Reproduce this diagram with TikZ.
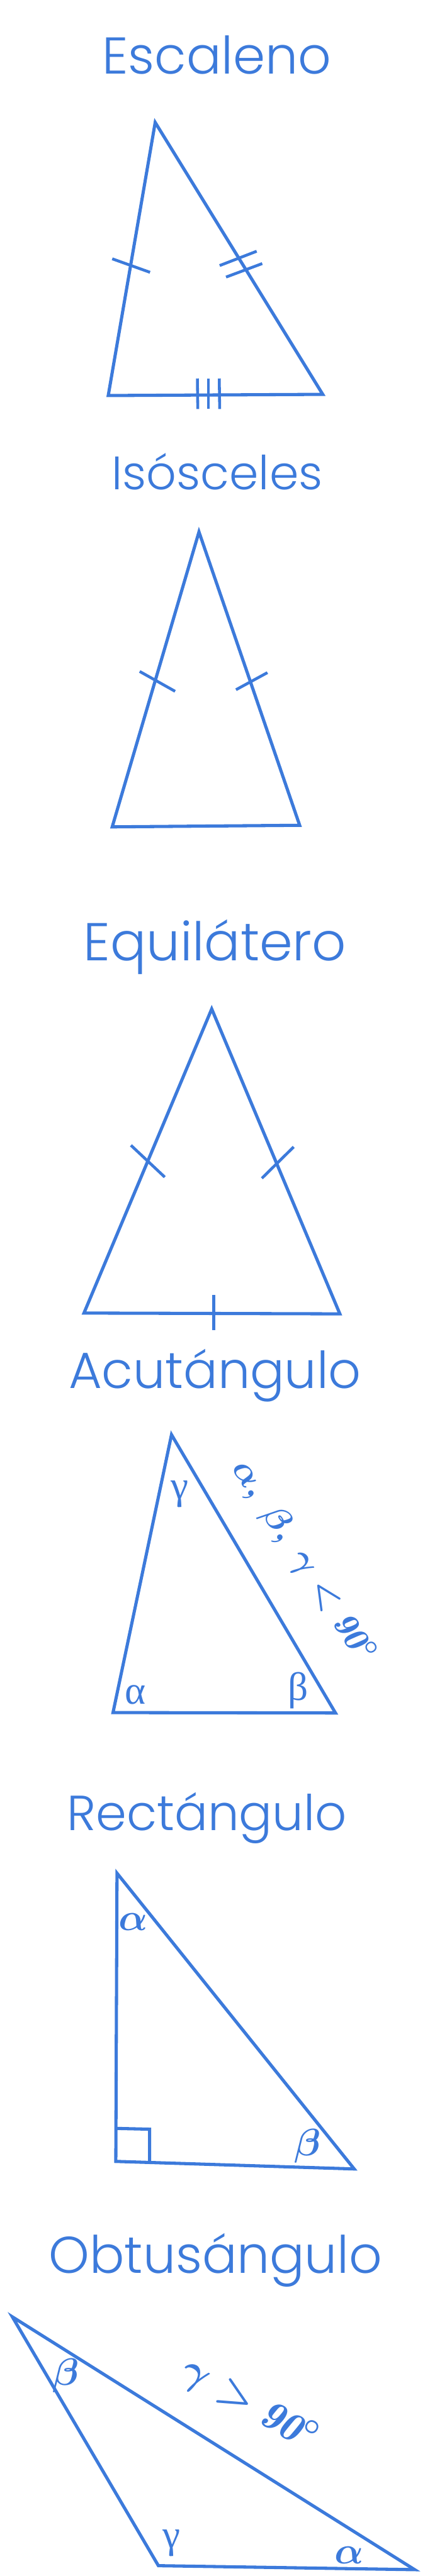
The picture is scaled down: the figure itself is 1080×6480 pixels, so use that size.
\RequirePackage{fix-cm}
\documentclass[tikz,border=0pt]{standalone}
\usepackage{fontspec}
\newfontfamily\titlefont{Poppins Light}
\newfontfamily\greekfont{Liberation Serif}
\definecolor{tblue}{RGB}{60,122,219}
\begin{document}
\begin{tikzpicture}[x=0.5pt,y=-0.5pt,
  tri/.style={draw=tblue, line width=4pt, line join=miter},
  tickmark/.style={draw=tblue, line width=3.6pt},
  title/.style={text=tblue, anchor=base, inner sep=0pt},
  lbl/.style={text=tblue, inner sep=0pt, font=\fontsize{48}{50}\selectfont\boldmath}]
\useasboundingbox (0,0) rectangle (1080,6480);
\fill[white] (0,0) rectangle (1080,6480);

% ---------- Escaleno ----------
\node[title, font=\titlefont\fontsize{65}{70}\selectfont] (t1) at (545,186) {Escaleno};
\coordinate (e1) at (390,308);
\coordinate (e2) at (272,995);
\coordinate (e3) at (811,992);
\draw[tri] (e1) -- (e2) -- (e3) -- cycle;
\coordinate (ea1) at (282,651); \coordinate (ea2) at (377,685);
\draw[tickmark] (ea1) -- (ea2);
\coordinate (eb1) at (552,668); \coordinate (eb2) at (645,632);
\coordinate (eb3) at (568,697); \coordinate (eb4) at (659,663);
\draw[tickmark] (eb1) -- (eb2);
\draw[tickmark] (eb3) -- (eb4);
\coordinate (ec1) at (496,952); \coordinate (ec2) at (497,1029);
\coordinate (ec3) at (524,952); \coordinate (ec4) at (524,1029);
\coordinate (ec5) at (551,952); \coordinate (ec6) at (552,1029);
\draw[tickmark] (ec1) -- (ec2);
\draw[tickmark] (ec3) -- (ec4);
\draw[tickmark] (ec5) -- (ec6);

% ---------- Isosceles ----------
\node[title, font=\titlefont\fontsize{59}{63}\selectfont] (t2) at (546,1232) {Isósceles};
\coordinate (i1) at (500,1338);
\coordinate (i2) at (282,2080);
\coordinate (i3) at (753,2076);
\draw[tri] (i1) -- (i2) -- (i3) -- cycle;
\coordinate (ia1) at (351,1689); \coordinate (ia2) at (440,1739);
\coordinate (ib1) at (593,1735); \coordinate (ib2) at (672,1692);
\draw[tickmark] (ia1) -- (ia2);
\draw[tickmark] (ib1) -- (ib2);

% ---------- Equilatero ----------
\node[title, font=\titlefont\fontsize{67}{71}\selectfont] (t3) at (540,2416) {Equilátero};
\coordinate (q1) at (532,2538);
\coordinate (q2) at (211,3303);
\coordinate (q3) at (854,3305);
\draw[tri] (q1) -- (q2) -- (q3) -- cycle;
\coordinate (qa1) at (329,2881); \coordinate (qa2) at (414,2961);
\coordinate (qb1) at (658,2964); \coordinate (qb2) at (738,2885);
\coordinate (qc1) at (537,3258); \coordinate (qc2) at (537,3346);
\draw[tickmark] (qa1) -- (qa2);
\draw[tickmark] (qb1) -- (qb2);
\draw[tickmark] (qc1) -- (qc2);

% ---------- Acutangulo ----------
\node[title, font=\titlefont\fontsize{64}{68}\selectfont] (t4) at (540,3493) {Acutángulo};
\coordinate (a1) at (431,3609);
\coordinate (a2) at (284,4308);
\coordinate (a3) at (843,4309);
\draw[tri] (a1) -- (a2) -- (a3) -- cycle;
\node[lbl, font=\greekfont\fontsize{50}{52}\selectfont] (ag) at (451,3758) {γ};
\node[lbl, font=\greekfont\fontsize{50}{52}\selectfont] (aa) at (341,4263) {α};
\node[lbl, font=\greekfont\fontsize{50}{52}\selectfont] (ab) at (750,4253) {β};
\node[lbl, rotate=-57, font=\fontsize{44}{46}\selectfont\boldmath] (acond) at (761,3927)
  {$\alpha,\ \beta,\ \gamma < \mathit{90}^\circ$};

% ---------- Rectangulo ----------
\node[title, font=\titlefont\fontsize{62}{66}\selectfont] (t5) at (520,4604) {Rectángulo};
\coordinate (r1) at (294,4712);
\coordinate (r2) at (291,5437);
\coordinate (r3) at (890,5456);
\draw[tri] (r1) -- (r2) -- (r3) -- cycle;
\coordinate (rs1) at (292,5354);
\coordinate (rs2) at (376,5356);
\coordinate (rs3) at (376,5439);
\draw[tri] (rs1) -- (rs2) -- (rs3);
\node[lbl] (ra) at (334,4835) {$\alpha$};
\node[lbl] (rb) at (773,5399) {$\beta$};

% ---------- Obtusangulo ----------
\node[title, font=\titlefont\fontsize{65}{69}\selectfont] (t6) at (542,5718) {Obtusángulo};
\coordinate (o1) at (31,5828);
\coordinate (o2) at (398,6454);
\coordinate (o3) at (1042,6464);
\draw[tri] (o1) -- (o2) -- (o3) -- cycle;
\node[lbl] (ob) at (166,5976) {$\beta$};
\node[lbl, font=\greekfont\fontsize{50}{52}\selectfont] (og) at (431,6397) {γ};
\node[lbl] (oa) at (877,6427) {$\alpha$};
\node[lbl, rotate=-30, font=\fontsize{52}{54}\selectfont\boldmath] (ocond) at (626,6050)
  {$\gamma > \mathit{90}^\circ$};
\end{tikzpicture}
\end{document}
